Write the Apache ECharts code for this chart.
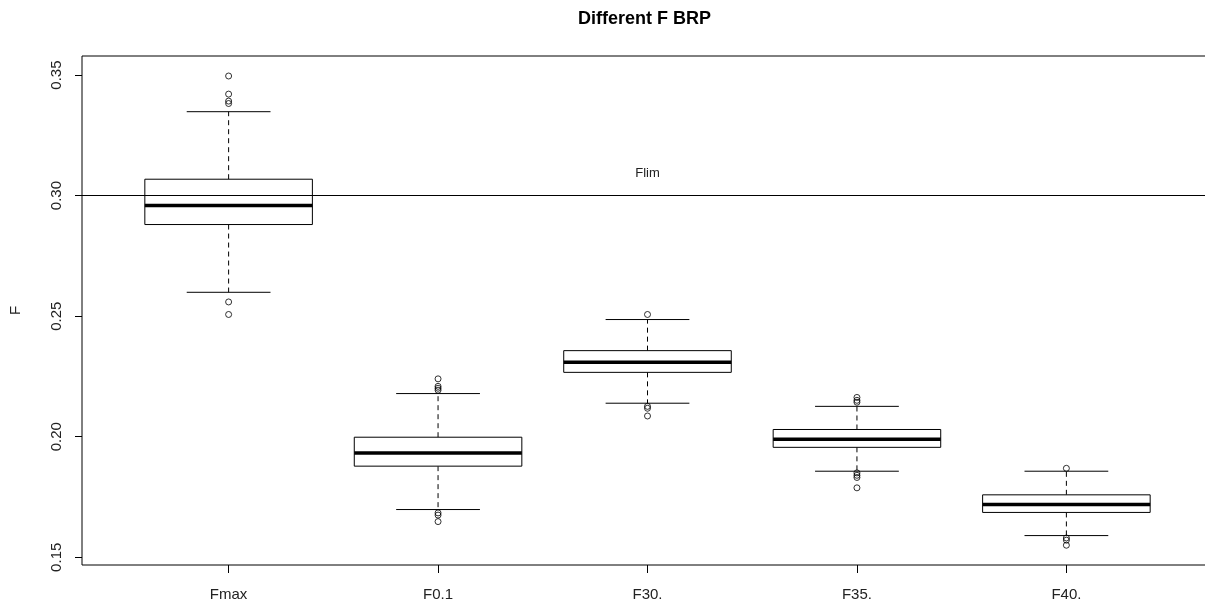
<!DOCTYPE html>
<html>
<head>
    <meta charset="utf-8">
    <script src="https://cdn.jsdelivr.net/npm/echarts@6/dist/echarts.min.js"></script>
    <style type="text/css">
        html, body { margin: 0; padding: 0; background: #fff; }
    </style>
</head>
<body>
    <div id="main" style="width: 1205px;height:605px;"></div>
    <script type="text/javascript">
        // data
        var categories = ['Fmax', 'F0.1', 'F30.', 'F35.', 'F40.'];
        var positions = [1, 2, 3, 4, 5];
        var whiskerLow  = [0.2599, 0.1698, 0.2139, 0.1857, 0.1590];
        var q1          = [0.2880, 0.1878, 0.2267, 0.1956, 0.1686];
        var median      = [0.2959, 0.1933, 0.2309, 0.1990, 0.1719];
        var q3          = [0.3068, 0.1998, 0.2357, 0.2030, 0.1759];
        var whiskerHigh = [0.3348, 0.2179, 0.2486, 0.2126, 0.1857];
        var outliers = [
            [0.3496, 0.3421, 0.3392, 0.3382, 0.2559, 0.2507],
            [0.2240, 0.2209, 0.2201, 0.2193, 0.1684, 0.1675, 0.1648],
            [0.2507, 0.2126, 0.2118, 0.2086],
            [0.2163, 0.2151, 0.2143, 0.1850, 0.1840, 0.1831, 0.1788],
            [0.1869, 0.1580, 0.1571, 0.1550]
        ];
        var yTicks = [0.15, 0.20, 0.25, 0.30, 0.35];
        var flim = 0.30;

        var boxData = positions.map(function (p, i) {
            return [p, whiskerLow[i], q1[i], median[i], q3[i], whiskerHigh[i]];
        });
        var outlierData = [];
        outliers.forEach(function (list, i) {
            list.forEach(function (v) { outlierData.push([positions[i], v]); });
        });

        var font = 'Liberation Sans, Arial, sans-serif';

        function renderBox(params, api) {
            var x = api.value(0);
            var lo = api.coord([x, api.value(1)]);
            var b1 = api.coord([x, api.value(2)]);
            var md = api.coord([x, api.value(3)]);
            var b3 = api.coord([x, api.value(4)]);
            var hi = api.coord([x, api.value(5)]);
            var halfBox = api.size([0.8, 0])[0] / 2;
            var halfCap = api.size([0.4, 0])[0] / 2;
            var cx = md[0];
            var thin = { stroke: '#000', lineWidth: 1, fill: null };
            var dashed = { stroke: '#000', lineWidth: 1, lineDash: [5, 4], fill: null };
            return {
                type: 'group',
                children: [
                    { type: 'line', shape: { x1: cx, y1: b3[1], x2: cx, y2: hi[1] }, style: dashed },
                    { type: 'line', shape: { x1: cx, y1: b1[1], x2: cx, y2: lo[1] }, style: dashed },
                    { type: 'line', shape: { x1: cx - halfCap, y1: hi[1], x2: cx + halfCap, y2: hi[1] }, style: thin },
                    { type: 'line', shape: { x1: cx - halfCap, y1: lo[1], x2: cx + halfCap, y2: lo[1] }, style: thin },
                    { type: 'rect', shape: { x: cx - halfBox, y: b3[1], width: halfBox * 2, height: b1[1] - b3[1] },
                      style: { stroke: '#000', lineWidth: 1, fill: '#fff' } },
                    { type: 'line', shape: { x1: cx - halfBox, y1: md[1], x2: cx + halfBox, y2: md[1] },
                      style: { stroke: '#000', lineWidth: 3.5 } }
                ]
            };
        }

        var myChart = echarts.init(document.getElementById('main'));
        var option = {
            backgroundColor: '#fff',
            animation: false,
            title: {
                text: 'Different F BRP',
                left: 578,
                top: 10,
                padding: 0,
                textStyle: { fontFamily: font, fontSize: 18, fontWeight: 'bold', color: '#000' }
            },
            grid: {
                left: 82, top: 56, width: 1131, height: 509,
                outerBoundsMode: 'none',
                containLabel: false,
                show: true, borderColor: '#000', borderWidth: 1,
                backgroundColor: 'transparent'
            },
            xAxis: {
                type: 'value',
                min: 0.3,
                max: 5.7,
                splitLine: { show: false },
                axisLine: { show: false },
                axisTick: { show: true, customValues: positions, length: 8, lineStyle: { color: '#000' } },
                axisLabel: {
                    customValues: positions,
                    margin: 22,
                    fontFamily: font, fontSize: 15, color: '#222',
                    formatter: function (v) { return categories[Math.round(v) - 1]; }
                }
            },
            yAxis: {
                type: 'value',
                min: 0.1468,
                max: 0.3579,
                name: 'F',
                nameLocation: 'middle',
                nameGap: 59,
                nameRotate: 90,
                nameTextStyle: { fontFamily: font, fontSize: 15, color: '#222' },
                splitLine: { show: false },
                axisLine: { show: false },
                axisTick: { show: true, customValues: yTicks, length: 7, lineStyle: { color: '#000' } },
                axisLabel: {
                    customValues: yTicks,
                    rotate: 90,
                    margin: 18,
                    fontFamily: font, fontSize: 15, color: '#222',
                    formatter: function (v) { return v.toFixed(2); }
                }
            },
            series: [{
                type: 'custom',
                renderItem: renderBox,
                encode: { x: 0, y: [1, 2, 3, 4, 5] },
                data: boxData,
                z: 2
            }, {
                type: 'scatter',
                symbol: 'circle',
                symbolSize: 6,
                itemStyle: { color: 'transparent', borderColor: '#000', borderWidth: 1 },
                data: outlierData,
                z: 3,
                markLine: {
                    silent: true,
                    symbol: 'none',
                    lineStyle: { color: '#000', width: 1, type: 'solid' },
                    label: {
                        show: true,
                        position: 'middle',
                        distance: 16,
                        formatter: 'Flim',
                        fontFamily: font, fontSize: 13, color: '#222'
                    },
                    data: [{ yAxis: flim }]
                }
            }]
        };
        myChart.setOption(option);
    </script>
</body>
</html>
